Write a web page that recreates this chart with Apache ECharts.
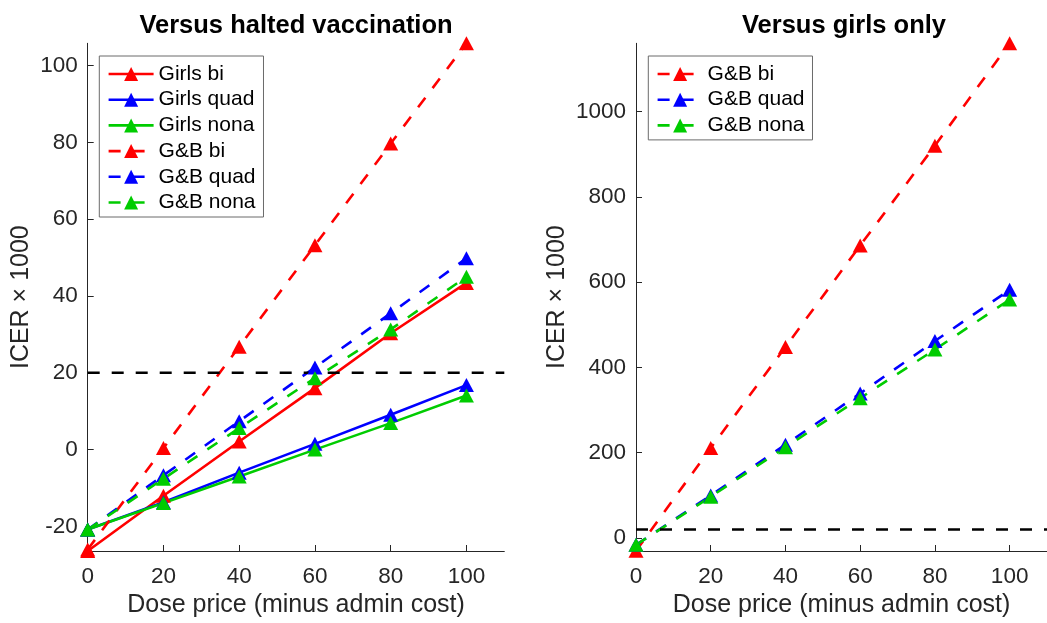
<!DOCTYPE html>
<html>
<head>
<meta charset="utf-8">
<title>ICER versus dose price</title>
<script src="https://cdn.jsdelivr.net/npm/echarts@6/dist/echarts.min.js"></script>
<style>
  html, body { margin: 0; padding: 0; background: #ffffff; }
  #chart { width: 1047px; height: 623px; }
</style>
</head>
<body>
<div id="chart"></div>
<script>
// Dose price (minus admin cost)
const price = [0, 20, 40, 60, 80, 100];

// Versus halted vaccination (ICER x 1000)
const girlsBi       = [-26.4, -12.0, 2.1, 16.0, 30.3, 43.4];
const girlsQuad     = [-20.8, -13.7, -6.0, 1.5, 9.1, 16.8];
const girlsNona     = [-20.8, -13.9, -7.0, 0.0, 6.9, 14.1];
const gbBiHalted    = [-26.0, 0.4, 26.8, 53.2, 79.7, 105.8];
const gbQuadHalted  = [-20.8, -6.7, 7.4, 21.4, 35.5, 49.8];
const gbNonaHalted  = [-20.8, -7.6, 5.6, 18.6, 31.3, 45.0];

// Versus girls only (ICER x 1000)
const gbBiGirls     = [-30.0, 211, 448, 686, 920, 1160];
const gbQuadGirls   = [-16.0, 100, 219, 339, 462, 582];
const gbNonaGirls   = [-16.0, 97, 213, 328, 442, 559];

// Willingness-to-pay threshold
const thresholdX = [0, 110];
const threshold = 20;

// Tick labels
const xTicks = [0, 20, 40, 60, 80, 100];
const yTicksLeft = [-20, 0, 20, 40, 60, 80, 100];
const yTicksRight = [0, 200, 400, 600, 800, 1000];

const FONT = "'Liberation Sans', Arial, Helvetica, sans-serif";
const AXIS_COLOR = '#262626';
const RED = '#ff0000', BLUE = '#0000ff', GREEN = '#00cc00';
const DASH = [12, 12];
const LINE_W = 2.6;

function pairs(xs, ys) { return xs.map((x, i) => [x, ys[i]]); }

function lineSeries(name, color, dashed, ys, axisIndex) {
  return {
    name: name,
    type: 'line',
    xAxisIndex: axisIndex,
    yAxisIndex: axisIndex,
    data: pairs(price, ys),
    symbol: 'triangle',
    symbolSize: [15, 14],
    showSymbol: true,
    clip: false,
    lineStyle: { color: color, width: LINE_W, type: dashed ? DASH : 'solid', cap: 'butt' },
    itemStyle: { color: color, borderWidth: 0 },
    emphasis: { disabled: true },
    animation: false
  };
}

function thresholdSeries(axisIndex) {
  return {
    name: 'threshold',
    type: 'line',
    xAxisIndex: axisIndex,
    yAxisIndex: axisIndex,
    data: thresholdX.map(x => [x, threshold]),
    symbol: 'none',
    clip: true,
    lineStyle: { color: '#000000', width: 2.6, type: DASH, cap: 'butt' },
    emphasis: { disabled: true },
    z: 3,
    animation: false
  };
}

function xAxis(gridIndex) {
  return {
    type: 'value',
    gridIndex: gridIndex,
    min: 0, max: 110,
    name: 'Dose price (minus admin cost)',
    nameLocation: 'middle',
    nameGap: 42,
    nameTextStyle: { fontFamily: FONT, fontSize: 25, color: AXIS_COLOR },
    axisLine: { show: true, onZero: false, lineStyle: { color: AXIS_COLOR, width: 1 } },
    axisTick: { show: true, inside: true, length: 6, customValues: xTicks, lineStyle: { color: AXIS_COLOR } },
    axisLabel: { customValues: xTicks, fontFamily: FONT, fontSize: 22.5, color: AXIS_COLOR, margin: 14,
      formatter: v => String(v) },
    splitLine: { show: false }
  };
}

function yAxis(gridIndex, min, max, ticks, gap) {
  return {
    type: 'value',
    gridIndex: gridIndex,
    min: min, max: max,
    name: 'ICER \u00d7 1000',
    nameLocation: 'middle',
    nameGap: gap,
    nameRotate: 90,
    nameTextStyle: { fontFamily: FONT, fontSize: 25, color: AXIS_COLOR },
    axisLine: { show: true, onZero: false, lineStyle: { color: AXIS_COLOR, width: 1 } },
    axisTick: { show: true, inside: true, length: 6, customValues: ticks, lineStyle: { color: AXIS_COLOR } },
    axisLabel: { customValues: ticks, fontFamily: FONT, fontSize: 22.5, color: AXIS_COLOR, margin: 10,
      formatter: v => String(v) },
    splitLine: { show: false }
  };
}

function legend(names, left, top) {
  return {
    data: names,
    orient: 'vertical',
    left: left,
    top: top,
    itemWidth: 45,
    itemHeight: 17.5,
    itemGap: 4.7,
    selectedMode: false,
    padding: [7.5, 8, 4, 8],
    backgroundColor: '#ffffff',
    borderColor: '#6b6b6b',
    borderWidth: 1,
    borderRadius: 0,
    lineStyle: { width: LINE_W },
    textStyle: { fontFamily: FONT, fontSize: 21, color: '#000000', lineHeight: 21 }
  };
}

const chart = echarts.init(document.getElementById('chart'), null, { renderer: 'canvas' });

chart.setOption({
  animation: false,
  backgroundColor: '#ffffff',
  title: [
    { text: 'Versus halted vaccination', left: 296, top: 13, textAlign: 'center', padding: 0,
      textStyle: { fontFamily: FONT, fontSize: 25.5, fontWeight: 'bold', color: '#000000' } },
    { text: 'Versus girls only', left: 844, top: 13, textAlign: 'center', padding: 0,
      textStyle: { fontFamily: FONT, fontSize: 25.5, fontWeight: 'bold', color: '#000000' } }
  ],
  grid: [
    { left: 87.7, top: 43.3, width: 416.6, height: 509, containLabel: false },
    { left: 636, top: 43.3, width: 414, height: 509, containLabel: false }
  ],
  xAxis: [xAxis(0), xAxis(1)],
  yAxis: [
    yAxis(0, -26.4, 105.8, yTicksLeft, 54),
    yAxis(1, -30.4, 1160, yTicksRight, 66)
  ],
  legend: [
    legend(['Girls bi', 'Girls quad', 'Girls nona', 'G&B bi', 'G&B quad', 'G&B nona'], 99.3, 56),
    legend(['G&B bi', 'G&B quad', 'G&B nona'], 648.3, 56)
  ],
  series: [
    lineSeries('Girls bi', RED, false, girlsBi, 0),
    lineSeries('Girls quad', BLUE, false, girlsQuad, 0),
    lineSeries('Girls nona', GREEN, false, girlsNona, 0),
    lineSeries('G&B bi', RED, true, gbBiHalted, 0),
    lineSeries('G&B quad', BLUE, true, gbQuadHalted, 0),
    lineSeries('G&B nona', GREEN, true, gbNonaHalted, 0),
    thresholdSeries(0),
    lineSeries('G&B bi', RED, true, gbBiGirls, 1),
    lineSeries('G&B quad', BLUE, true, gbQuadGirls, 1),
    lineSeries('G&B nona', GREEN, true, gbNonaGirls, 1),
    thresholdSeries(1)
  ]
});
</script>
</body>
</html>
